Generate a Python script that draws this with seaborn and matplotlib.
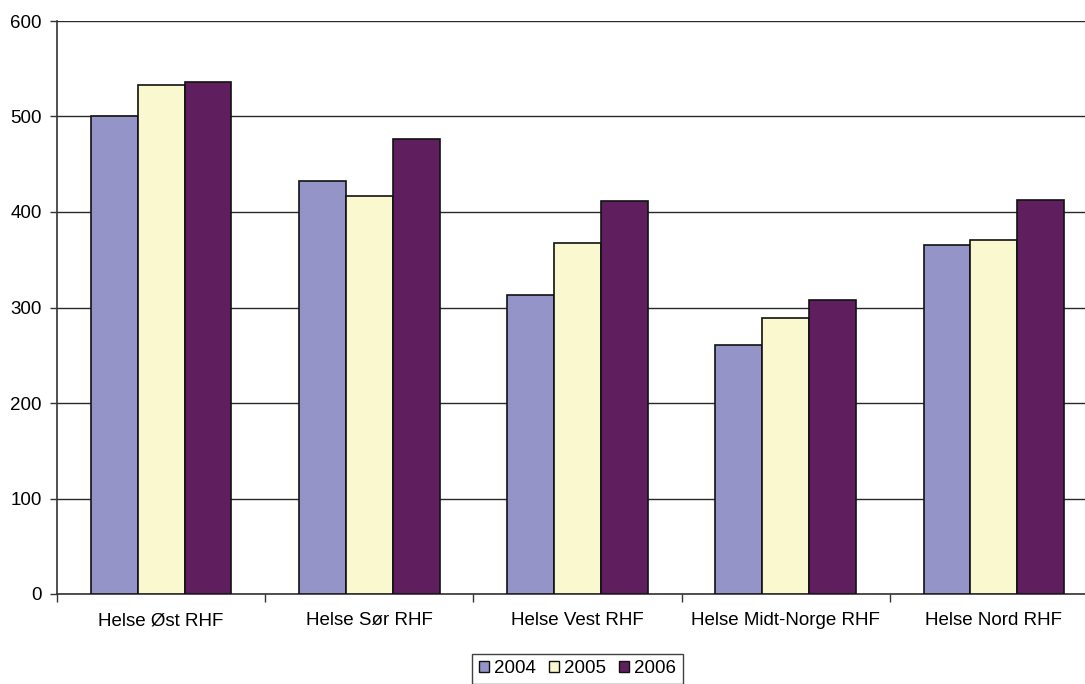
import matplotlib
matplotlib.use("Agg")
import matplotlib.pyplot as plt
import numpy as np
import pandas as pd
import seaborn as sns

regions = ["Helse Øst RHF", "Helse Sør RHF", "Helse Vest RHF",
           "Helse Midt-Norge RHF", "Helse Nord RHF"]
years = ["2004", "2005", "2006"]
v2004 = [500, 432, 313, 261, 365]
v2005 = [533, 417, 368, 289, 371]
v2006 = [536, 476, 412, 308, 413]
colors = ["#9494C8", "#FAF8CE", "#5F1F5F"]

df = pd.DataFrame({
    "region": regions * 3,
    "year": [y for y in years for _ in regions],
    "value": v2004 + v2005 + v2006,
})

sns.set_theme(style="white")
plt.rcParams["font.family"] = ["Liberation Sans", "DejaVu Sans"]
plt.rcParams["text.color"] = "black"
plt.rcParams["xtick.color"] = "black"
plt.rcParams["ytick.color"] = "black"

W, H = 1085, 684
fig = plt.figure(figsize=(W / 100, H / 100), dpi=100)
# plot area runs slightly past the right edge of the canvas
left, right, top, bottom = 57, 1098, 21, 594
ax = fig.add_axes([left / W, 1 - bottom / H, (right - left) / W, (bottom - top) / H])

sns.barplot(data=df, x="region", y="value", hue="year", order=regions,
            hue_order=years, palette=colors, width=0.675, gap=0,
            edgecolor="#111111", linewidth=1.2, saturation=1, ax=ax,
            zorder=3)

ax.set_ylim(0, 600)
ax.set_xlim(-0.5, len(regions) - 0.5)
ax.set_yticks(range(0, 601, 100))
ax.yaxis.grid(True, color="#2a2a2a", linewidth=1.0, zorder=0)
ax.set_axisbelow(True)
ax.set_xlabel("")
ax.set_ylabel("")

for side in ["top", "right"]:
    ax.spines[side].set_visible(False)
for side in ["left", "bottom"]:
    ax.spines[side].set_color("#333333")
    ax.spines[side].set_linewidth(1.2)

fs = 13.5
ax.tick_params(axis="y", which="major", length=5, width=1, color="#333333",
               direction="out", labelsize=fs, pad=6, left=True)
ax.tick_params(axis="x", which="major", length=0, labelsize=fs, pad=13)
ax.set_xticks(np.arange(-0.5, len(regions)), minor=True)
ax.tick_params(axis="x", which="minor", length=6, width=1, color="#333333",
               direction="out", bottom=True)

leg = ax.legend(loc="upper center", bbox_to_anchor=(0.5, -0.104), ncol=3,
                frameon=True, fancybox=False, fontsize=fs,
                handlelength=0.55, handleheight=0.55, handletextpad=0.25,
                columnspacing=0.7, borderpad=0.35, borderaxespad=0)
leg.get_frame().set_edgecolor("#111111")
leg.get_frame().set_linewidth(1.0)
for h in leg.legend_handles:
    h.set_edgecolor("#111111")
    h.set_linewidth(1.0)

fig.savefig("out.png", dpi=100)
